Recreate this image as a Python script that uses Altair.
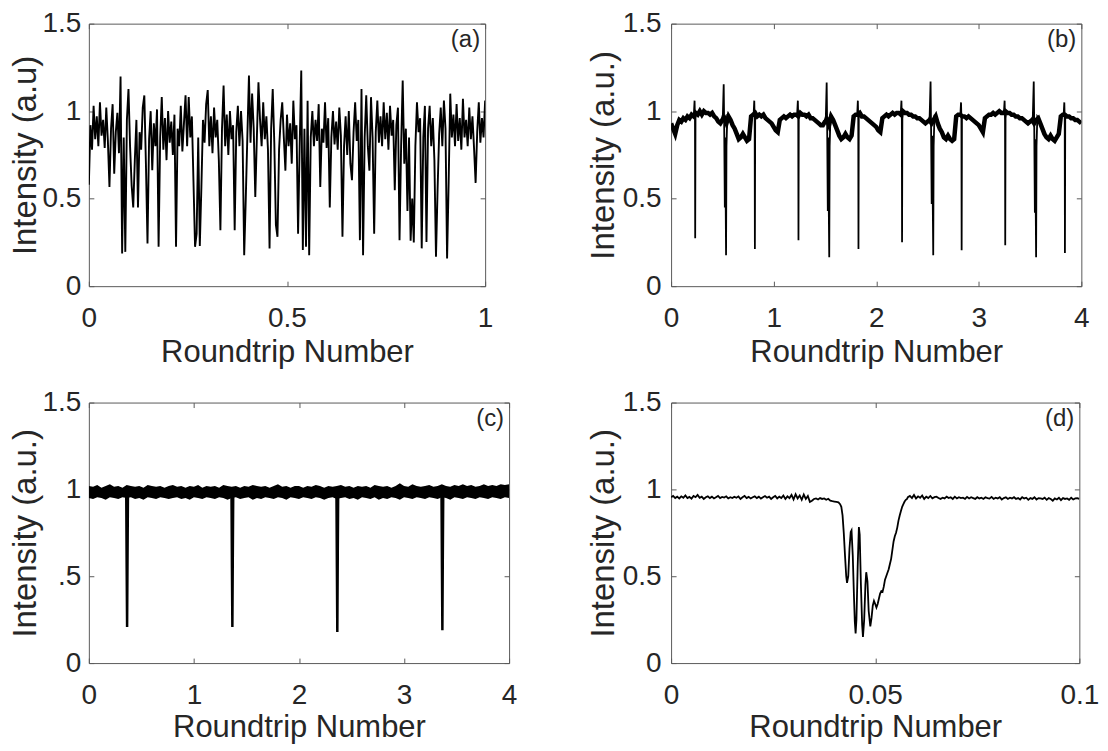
import altair as alt
import pandas as pd

FONT = "Liberation Sans"
TXT = "#262626"
FRAME = "#5a5a5a"

XTITLE = "Roundtrip Number"

# ---------------- panel (a) ----------------
a_step = 0.004
a_y = [
    0.58, 0.92, 0.78, 1.03, 0.84, 0.97, 0.80, 1.05, 0.86, 0.95,
    0.79, 1.02, 0.83, 0.567, 0.90, 1.04, 0.643, 0.88, 0.99, 0.76,
    1.198, 0.187, 0.85, 0.196, 0.95, 1.127, 0.80, 0.575, 0.45, 0.72,
    0.95, 0.45, 0.88, 0.78, 1.02, 1.09, 0.70, 0.244, 0.84, 1.0,
    0.662, 0.93, 0.80, 1.01, 0.225, 0.85, 1.08, 0.78, 0.96, 0.72,
    1.0, 0.82, 0.94, 0.75, 0.98, 0.225, 0.90, 0.80, 1.03, 0.77,
    0.93, 1.09, 0.80, 1.08, 0.85, 0.97, 0.60, 0.225, 0.30, 0.85,
    0.23, 0.567, 0.95, 0.82, 1.04, 1.12, 0.80, 0.97, 0.76, 1.02,
    0.85, 0.95, 0.72, 0.32, 0.90, 1.146, 0.80, 0.98, 0.75, 1.0,
    0.84, 0.92, 0.32, 0.88, 1.03, 0.80, 1.0, 0.83, 0.177, 0.50,
    0.86, 1.203, 0.82, 1.10, 0.90, 0.51, 0.85, 1.165, 0.95, 0.80,
    1.05, 0.84, 0.97, 0.78, 0.216, 0.90, 1.127, 0.82, 0.35, 0.282,
    0.78, 0.95, 1.05, 0.85, 0.66, 0.98, 0.80, 0.93, 0.70, 1.06,
    0.84, 0.92, 0.30, 0.80, 1.232, 0.206, 0.90, 0.225, 1.06, 0.177,
    0.85, 1.0, 0.80, 0.95, 0.83, 1.04, 0.567, 0.90, 0.82, 1.05,
    0.79, 0.96, 0.45, 0.85, 1.0, 0.81, 0.94, 0.78, 1.02, 0.86,
    0.282, 0.80, 0.97, 0.75, 1.0, 0.70, 0.605, 0.88, 1.05, 0.83,
    0.95, 0.263, 1.127, 0.177, 0.85, 1.09, 0.80, 0.66, 1.08, 0.85,
    0.30, 0.88, 1.06, 0.82, 0.97, 0.80, 1.05, 0.84, 0.99, 0.78,
    1.03, 0.86, 0.95, 0.548, 0.92, 1.02, 0.263, 0.80, 1.175, 0.70,
    0.90, 0.43, 0.85, 0.26, 0.50, 0.25, 0.80, 1.05, 0.88, 0.96,
    0.216, 0.85, 1.03, 0.253, 0.90, 1.03, 0.80, 0.96, 0.72, 0.168,
    0.55, 0.87, 1.02, 0.80, 1.06, 0.90, 0.158, 0.60, 1.10, 0.85,
    0.98, 0.80, 1.04, 0.83, 0.96, 0.78, 1.07, 0.85, 0.95, 0.80,
    1.02, 0.84, 0.97, 0.79, 0.59, 0.88, 1.05, 0.82, 0.96, 0.85,
    1.06,
]

# ---------------- panel (b) ----------------
b_step = 0.02
b_base = [
    0.93, 0.90, 0.87, 0.92, 0.95, 0.94, 0.96, 0.95, 0.97, 0.96,
    0.98, 0.97, 0.99, 0.98, 1.00, 0.98, 1.00, 0.99, 0.99, 0.98,
    0.99, 0.97, 0.96, 0.94, 0.93, 0.95, 0.96, 0.93, 0.97, 0.95,
    0.92, 0.90, 0.87, 0.84, 0.85, 0.87, 0.85, 0.83, 0.84, 0.97,
    0.98, 0.99, 0.97, 0.98, 0.97, 0.98, 0.96, 0.95, 0.94, 0.93,
    0.91, 0.89, 0.88, 0.95, 0.96, 0.97, 0.96, 0.97, 0.98, 0.97,
    0.98, 0.98, 0.97, 0.99, 0.98, 0.98, 0.97, 0.98, 0.96, 0.96,
    0.95, 0.94, 0.93, 0.92, 0.92, 0.94, 0.95, 0.92, 0.97, 0.95,
    0.92, 0.89, 0.86, 0.84, 0.85, 0.87, 0.85, 0.84, 0.86, 0.97,
    0.98, 0.98, 0.99, 0.97, 0.97, 0.96, 0.95, 0.94, 0.93, 0.92,
    0.91, 0.89, 0.88, 0.96, 0.97, 0.98, 0.97, 0.98, 0.99, 0.98,
    0.99, 0.99, 0.98, 1.00, 0.99, 0.99, 0.98, 0.98, 0.97, 0.97,
    0.96, 0.96, 0.95, 0.94, 0.93, 0.94, 0.95, 0.93, 0.95, 0.97,
    0.93, 0.90, 0.88, 0.85, 0.84, 0.86, 0.84, 0.83, 0.84, 0.97,
    0.98, 0.98, 0.97, 0.97, 0.96, 0.97, 0.96, 0.95, 0.94, 0.93,
    0.92, 0.90, 0.88, 0.96, 0.97, 0.98, 0.98, 0.99, 0.98, 0.99,
    1.00, 0.99, 0.99, 1.00, 0.99, 0.99, 0.98, 0.98, 0.97, 0.97,
    0.96, 0.96, 0.95, 0.94, 0.93, 0.94, 0.95, 0.93, 0.95, 0.96,
    0.93, 0.90, 0.87, 0.85, 0.84, 0.86, 0.84, 0.83, 0.85, 0.87,
    0.97, 0.98, 0.98, 0.97, 0.97, 0.96, 0.96, 0.95, 0.95, 0.94,
    0.93,
]
# narrow dips / spikes of (b): one list per event
b_dip_x = [
    [0.222, 0.229, 0.233, 0.235, 0.238, 0.245],
    [0.490, 0.505, 0.513, 0.518, 0.524, 0.528, 0.532, 0.536, 0.540, 0.548, 0.560],
    [0.804, 0.811, 0.815, 0.817, 0.820, 0.827],
    [1.229, 1.236, 1.240, 1.242, 1.245, 1.252],
    [1.494, 1.509, 1.517, 1.522, 1.528, 1.532, 1.537, 1.542, 1.546, 1.554, 1.566],
    [1.814, 1.821, 1.825, 1.827, 1.830, 1.837],
    [2.239, 2.246, 2.250, 2.252, 2.255, 2.262],
    [2.506, 2.521, 2.530, 2.535, 2.541, 2.546, 2.551, 2.556, 2.560, 2.568, 2.580],
    [2.820, 2.827, 2.831, 2.833, 2.836, 2.843],
    [3.245, 3.252, 3.256, 3.258, 3.261, 3.268],
    [3.512, 3.527, 3.536, 3.541, 3.547, 3.551, 3.555, 3.559, 3.563, 3.571, 3.583],
    [3.827, 3.834, 3.838, 3.840, 3.843, 3.850],
]
b_dip_y = [
    [0.98, 1.06, 0.95, 0.274, 0.96, 0.99],
    [0.95, 0.98, 1.154, 0.90, 0.45, 0.85, 0.50, 0.176, 0.80, 0.97, 0.96],
    [0.97, 1.06, 0.95, 0.213, 0.96, 0.99],
    [0.98, 1.06, 0.95, 0.262, 0.96, 0.98],
    [0.94, 0.97, 1.163, 0.90, 0.43, 0.85, 0.48, 0.165, 0.80, 0.97, 0.96],
    [0.97, 1.06, 0.95, 0.213, 0.96, 0.98],
    [0.98, 1.06, 0.95, 0.251, 0.96, 0.99],
    [0.94, 0.97, 1.17, 0.90, 0.47, 0.86, 0.50, 0.176, 0.80, 0.98, 0.96],
    [0.97, 1.05, 0.95, 0.205, 0.96, 0.98],
    [0.99, 1.06, 0.95, 0.234, 0.96, 1.00],
    [0.94, 0.97, 1.17, 0.90, 0.42, 0.84, 0.48, 0.165, 0.80, 0.97, 0.96],
    [0.97, 1.05, 0.95, 0.19, 0.96, 0.98],
]

# ---------------- panel (c) ----------------
c_step = 0.04
c_hi = [
    1.02, 1.015, 1.025, 1.01, 1.02, 1.03, 1.015, 1.02, 1.01, 1.025,
    1.02, 1.015, 1.02, 1.01, 1.025, 1.02, 1.015, 1.02, 1.01, 1.02,
    1.025, 1.015, 1.02, 1.01, 1.02, 1.015, 1.025, 1.01, 1.02, 1.015,
    1.02, 1.01, 1.025, 1.02, 1.015, 1.02, 1.01, 1.02, 1.015, 1.025,
    1.02, 1.015, 1.02, 1.01, 1.02, 1.03, 1.015, 1.02, 1.01, 1.02,
    1.02, 1.01, 1.02, 1.015, 1.025, 1.02, 1.01, 1.02, 1.015, 1.02,
    1.025, 1.015, 1.02, 1.01, 1.02, 1.015, 1.02, 1.01, 1.025, 1.02,
    1.015, 1.02, 1.01, 1.02, 1.035, 1.02, 1.015, 1.03, 1.02, 1.015,
    1.02, 1.025, 1.015, 1.02, 1.03, 1.02, 1.015, 1.025, 1.02, 1.03,
    1.02, 1.025, 1.015, 1.02, 1.03, 1.02, 1.025, 1.02, 1.03, 1.025,
    1.03,
]
c_lo = [
    0.95, 0.945, 0.955, 0.95, 0.94, 0.955, 0.95, 0.945, 0.955, 0.95,
    0.955, 0.945, 0.95, 0.94, 0.955, 0.95, 0.945, 0.955, 0.95, 0.945,
    0.95, 0.955, 0.945, 0.95, 0.94, 0.955, 0.95, 0.945, 0.955, 0.95,
    0.945, 0.955, 0.95, 0.94, 0.95, 0.955, 0.945, 0.95, 0.955, 0.94,
    0.95, 0.945, 0.955, 0.95, 0.945, 0.955, 0.95, 0.94, 0.955, 0.95,
    0.945, 0.955, 0.95, 0.945, 0.955, 0.95, 0.94, 0.95, 0.955, 0.945,
    0.95, 0.955, 0.945, 0.95, 0.94, 0.955, 0.95, 0.945, 0.955, 0.94,
    0.95, 0.945, 0.955, 0.95, 0.94, 0.955, 0.95, 0.945, 0.955, 0.95,
    0.945, 0.955, 0.95, 0.945, 0.955, 0.95, 0.94, 0.955, 0.95, 0.945,
    0.955, 0.95, 0.945, 0.955, 0.95, 0.945, 0.955, 0.95, 0.945, 0.955,
    0.95,
]
c_dip_x = [
    [0.356, 0.360, 0.364, 0.368, 0.372],
    [1.358, 1.362, 1.366, 1.370, 1.374],
    [2.357, 2.361, 2.365, 2.369, 2.373],
    [3.357, 3.361, 3.365, 3.369, 3.373],
]
c_dip_y = [
    [0.96, 0.55, 0.208, 0.60, 0.96],
    [0.96, 0.55, 0.208, 0.60, 0.96],
    [0.96, 0.55, 0.179, 0.60, 0.96],
    [0.96, 0.55, 0.189, 0.60, 0.96],
]

# ---------------- panel (d) ----------------
d_step = 0.0005
d_left = [
    0.955, 0.962, 0.950, 0.958, 0.948, 0.960, 0.952, 0.965, 0.950, 0.957,
    0.947, 0.962, 0.955, 0.968, 0.952, 0.958, 0.945, 0.955, 0.960, 0.950,
    0.958, 0.948, 0.955, 0.962, 0.950, 0.957, 0.953, 0.960, 0.948, 0.955,
    0.950, 0.958, 0.952, 0.960, 0.945, 0.955, 0.962, 0.950, 0.957, 0.948,
    0.955, 0.960, 0.950, 0.958, 0.947, 0.955, 0.962, 0.952, 0.958, 0.945,
    0.955, 0.962, 0.948, 0.958, 0.950, 0.965, 0.945, 0.960, 0.950, 0.968,
    0.942, 0.972, 0.948, 0.965, 0.940, 0.970, 0.945, 0.962, 0.928, 0.935,
    0.945, 0.948, 0.942, 0.950, 0.945, 0.948, 0.940, 0.946, 0.935, 0.932,
    0.930, 0.928,
]
d_mid_x = [
    0.0410, 0.0414, 0.0417, 0.0420, 0.0423, 0.0426, 0.0429, 0.0431, 0.0434, 0.0437,
    0.0440, 0.0442, 0.0445, 0.0448, 0.0450, 0.0452, 0.0454, 0.0457, 0.0460, 0.0462,
    0.0465, 0.0468, 0.0470, 0.0473, 0.0476, 0.0478, 0.0481, 0.0484, 0.0488, 0.0491,
    0.0494, 0.0497, 0.0500, 0.0503, 0.0506, 0.0509, 0.0512, 0.0515, 0.0518, 0.0521,
    0.0524, 0.0527, 0.0530, 0.0533, 0.0536, 0.0539, 0.0542, 0.0545, 0.0548, 0.0551,
    0.0554, 0.0557, 0.0560, 0.0563, 0.0566, 0.0569, 0.0572, 0.0575, 0.0578,
]
d_mid_y = [
    0.925, 0.915, 0.900, 0.850, 0.750, 0.620, 0.500, 0.462, 0.500, 0.660,
    0.755, 0.764, 0.620, 0.380, 0.240, 0.170, 0.250, 0.550, 0.783, 0.740,
    0.450, 0.220, 0.151, 0.250, 0.450, 0.523, 0.470, 0.300, 0.211, 0.260,
    0.330, 0.358, 0.340, 0.320, 0.340, 0.370, 0.400, 0.415, 0.410, 0.440,
    0.480, 0.500, 0.520, 0.540, 0.570, 0.600, 0.650, 0.700, 0.730, 0.750,
    0.780, 0.820, 0.850, 0.875, 0.900, 0.915, 0.930, 0.940, 0.945,
]
d_right_start = 0.058
d_right = [
    0.955, 0.962, 0.950, 0.968, 0.948, 0.960, 0.952, 0.965, 0.945, 0.958,
    0.950, 0.962, 0.948, 0.955, 0.958, 0.950, 0.945, 0.952, 0.948, 0.958,
    0.950, 0.955, 0.945, 0.958, 0.948, 0.955, 0.950, 0.952, 0.945, 0.957,
    0.948, 0.955, 0.950, 0.945, 0.955, 0.948, 0.952, 0.945, 0.955, 0.950,
    0.947, 0.957, 0.945, 0.952, 0.948, 0.955, 0.942, 0.950, 0.955, 0.945,
    0.952, 0.948, 0.955, 0.945, 0.950, 0.942, 0.955, 0.948, 0.952, 0.940,
    0.950, 0.945, 0.955, 0.942, 0.950, 0.948, 0.945, 0.952, 0.940, 0.950,
    0.945, 0.935, 0.948, 0.942, 0.952, 0.938, 0.950, 0.945, 0.948, 0.940,
    0.952, 0.942, 0.948, 0.950, 0.945,
]

Y_TICKS = [0, 0.5, 1, 1.5]

# ---------------- tables ----------------
df_a = pd.DataFrame({"x": [i * a_step for i in range(len(a_y))], "y": a_y})
df_b = pd.DataFrame({"x": [i * b_step for i in range(len(b_base))], "y": b_base})
rows = []
for k, (xs, ys) in enumerate(zip(b_dip_x, b_dip_y)):
    for xv, yv in zip(xs, ys):
        rows.append({"x": xv, "y": yv, "id": k})
df_b_dips = pd.DataFrame(rows)
df_c = pd.DataFrame({"x": [i * c_step for i in range(len(c_hi))], "lo": c_lo, "hi": c_hi})
df_c["y"] = df_c["lo"]
rows = []
for k, (xs, ys) in enumerate(zip(c_dip_x, c_dip_y)):
    for xv, yv in zip(xs, ys):
        rows.append({"x": xv, "y": yv, "id": k})
df_c_dips = pd.DataFrame(rows)
d_x = ([i * d_step for i in range(len(d_left))] + d_mid_x
       + [d_right_start + i * d_step for i in range(len(d_right))])
df_d = pd.DataFrame({"x": d_x, "y": d_left + d_mid_y + d_right})

LAB = 28
XT = 31
YT = 33


def tick_axis(orient, offset, vals):
    return alt.Axis(orient=orient, offset=offset, values=vals, labels=False,
                    domain=False, grid=False, ticks=True, tickSize=5,
                    tickColor=FRAME, tickWidth=1, title=None,
                    minExtent=0, maxExtent=0)


def build(layers, axdf, W, H, xdom, xvals, ytitle, ytp, ylp, xtp, label, ylab_expr):
    xs = alt.Scale(domain=xdom, nice=False, zero=False)
    ys = alt.Scale(domain=[0, 1.5], nice=False, zero=False)
    xfmt = "format(datum.value, '~g')"
    main = alt.Chart(axdf).mark_line(strokeOpacity=0).encode(
        x=alt.X("x:Q", scale=xs, axis=alt.Axis(
            values=xvals, labelExpr=xfmt, title=XTITLE, ticks=False, tickSize=0,
            domain=False, grid=False, labelPadding=18, labelFontSize=LAB,
            labelColor=TXT, titleColor=TXT, titleFontSize=XT,
            titleFontWeight="normal", titlePadding=xtp, titleBaseline="top",
            labelFlush=False, labelOverlap=False, minExtent=0)),
        y=alt.Y("y:Q", scale=ys, axis=alt.Axis(
            values=Y_TICKS, labelExpr=ylab_expr, title=ytitle, ticks=False,
            tickSize=0, domain=False, grid=False, labelPadding=ylp,
            labelFontSize=LAB, labelColor=TXT, titleColor=TXT, titleFontSize=YT,
            titleFontWeight="normal", titlePadding=ytp, titleAngle=270,
            titleBaseline="bottom", titleAlign="center",
            labelFlush=False, labelOverlap=False, minExtent=0)),
    )
    tick_a = alt.Chart(axdf).mark_line(strokeOpacity=0).encode(
        x=alt.X("x:Q", scale=xs, axis=tick_axis("top", -H, xvals)),
        y=alt.Y("y:Q", scale=ys, axis=tick_axis("right", -W, Y_TICKS)),
    )
    tick_b = alt.Chart(axdf).mark_line(strokeOpacity=0).encode(
        x=alt.X("x:Q", scale=xs, axis=tick_axis("bottom", -H, xvals)),
        y=alt.Y("y:Q", scale=ys, axis=tick_axis("left", -W, Y_TICKS)),
    )
    data_layers = [lyr(xs, ys) for lyr in layers]
    lab = alt.Chart(pd.DataFrame({"t": [label]})).mark_text(
        align="right", baseline="top", fontSize=24, color=TXT
    ).encode(x=alt.value(W - 5), y=alt.value(4), text="t:N")
    return alt.layer(main, *data_layers, tick_a, tick_b, lab).resolve_axis(
        x="independent", y="independent"
    ).properties(width=W, height=H)


def line_layer(df, width, detail=False):
    def f(xs, ys):
        enc = dict(x=alt.X("x:Q", scale=xs, axis=None),
                   y=alt.Y("y:Q", scale=ys, axis=None))
        if detail:
            enc["detail"] = "id:N"
        return alt.Chart(df).mark_line(color="black", strokeWidth=width,
                                       clip=True).encode(**enc)
    return f


def area_layer(df):
    def f(xs, ys):
        return alt.Chart(df).mark_area(color="black", clip=True).encode(
            x=alt.X("x:Q", scale=xs, axis=None),
            y=alt.Y("lo:Q", scale=ys, axis=None),
            y2="hi:Q")
    return f


ylab = "format(datum.value, '~g')"
ylab_c = "datum.value == 0.5 ? '.5' : format(datum.value, '~g')"

WA, WB, WC, WD = 397, 411, 421, 409
H1, H2 = 263, 261
pa = build([line_layer(df_a, 1.9)], df_a, WA, H1, [0, 1], [0, 0.5, 1],
           "Intensity (a.u)", 0, 8, 5, "(a)", ylab)
pb = build([line_layer(df_b, 4.5), line_layer(df_b_dips, 1.8, True)], df_b,
           WB, H1, [0, 4], [0, 1, 2, 3, 4], "Intensity (a.u.)", 2, 10, 5, "(b)", ylab)
pc = build([area_layer(df_c), line_layer(df_c_dips, 2.5, True)], df_c,
           WC, H2, [0, 4], [0, 1, 2, 3, 4], "Intensity (a.u.)", 0, 8, 4, "(c)", ylab_c)
pd_ = build([line_layer(df_d, 1.8)], df_d, WD, H2, [0, 0.1], [0, 0.05, 0.1],
            "Intensity (a.u.)", 2, 10, 4, "(d)", ylab)

chart = alt.concat(
    pa, pb, pc, pd_, columns=2,
    spacing={"row": 19.6, "column": 68.3},
).properties(
    padding={"left": 0, "top": 0, "right": 0, "bottom": 0}
).configure(font=FONT).configure_view(stroke=FRAME, strokeWidth=1)

chart.save("out.html", embed_options={"renderer": "svg", "actions": False})
